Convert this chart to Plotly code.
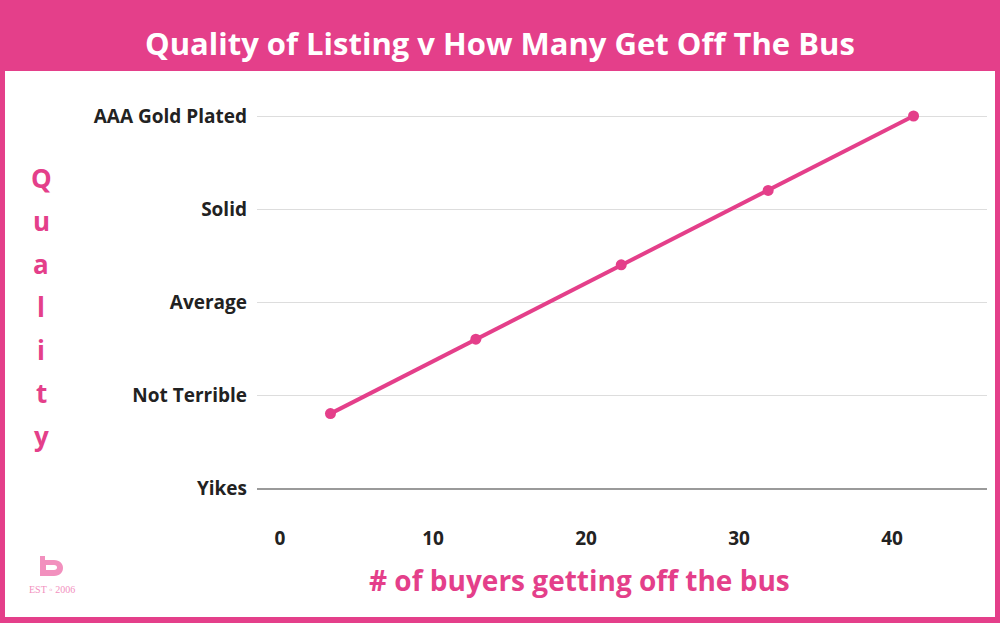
import plotly.graph_objects as go

# ---- data ----
buyers = [3.3, 12.8, 22.3, 31.9, 41.4]
quality = [0.8, 1.6, 2.4, 3.2, 4.0]
quality_levels = [0, 1, 2, 3, 4]
quality_labels = ["Yikes", "Not Terrible", "Average", "Solid", "AAA Gold Plated"]
x_ticks = [0, 10, 20, 30, 40]
y_title_letters = list("Quality")

PINK = "#E43F8A"
LOGO_PINK = "#F290BE"
FONT = "Open Sans"
W, H = 1000, 623
L, R, T, B = 257, 13, 95, 135
PW, PH = W - L - R, H - T - B


def px_x(px):
    return (px - L) / PW


def px_y(py):
    return (H - B - py) / PH


fig = go.Figure()
fig.add_trace(go.Scatter(
    x=buyers, y=quality, mode="lines+markers",
    line=dict(color=PINK, width=4),
    marker=dict(color=PINK, size=11),
    hoverinfo="skip", cliponaxis=False,
))

shapes = [
    # white card inside the pink frame
    dict(type="rect", xref="paper", yref="paper",
         x0=px_x(5), x1=px_x(995), y0=px_y(617), y1=px_y(71),
         fillcolor="white", line=dict(width=0), layer="below"),
    # logo
    dict(type="path", xref="paper", yref="paper", xsizemode="pixel", ysizemode="pixel",
         xanchor=px_x(0), yanchor=px_y(0),
         path="M 40,-556 L 45,-556 L 45,-560 L 54,-560 C 66,-560 66,-576 54,-576 L 40,-576 Z",
         fillcolor=LOGO_PINK, line=dict(width=0)),
    dict(type="path", xref="paper", yref="paper", xsizemode="pixel", ysizemode="pixel",
         xanchor=px_x(0), yanchor=px_y(0),
         path="M 46,-565 L 54,-565 C 58,-565 58,-570 54,-570 L 46,-570 Z",
         fillcolor="white", line=dict(width=0)),
]

annotations = [
    dict(text="Quality of Listing v How Many Get Off The Bus", xref="paper", yref="paper",
         x=px_x(500), y=px_y(43), showarrow=False, xanchor="center", yanchor="middle",
         font=dict(family=FONT, size=31, color="white", weight="bold")),
    dict(text="# of buyers getting off the bus", xref="paper", yref="paper",
         x=px_x(579), y=px_y(580), showarrow=False, xanchor="center", yanchor="middle",
         font=dict(family=FONT, size=28, color=PINK, weight="bold")),
    dict(text="EST ◦ 2006", xref="paper", yref="paper",
         x=px_x(52), y=px_y(589), showarrow=False, xanchor="center", yanchor="middle",
         font=dict(family="Liberation Serif", size=10, color=LOGO_PINK)),
]
for i, ch in enumerate(y_title_letters):
    annotations.append(dict(
        text=ch, xref="paper", yref="paper", x=px_x(41), y=px_y(178 + i * 43),
        showarrow=False, xanchor="center", yanchor="middle",
        font=dict(family=FONT, size=26, color=PINK, weight="bold")))

fig.update_layout(
    width=W, height=H,
    margin=dict(l=L, r=R, t=T, b=B, pad=0),
    paper_bgcolor=PINK, plot_bgcolor="rgba(0,0,0,0)",
    showlegend=False,
    shapes=shapes, annotations=annotations,
    xaxis=dict(range=[-1.5, 46.2], tickvals=x_ticks, showgrid=False, zeroline=False,
               showline=True, linecolor="#9a9a9a", linewidth=1.5,
               ticks="", ticklabelstandoff=32,
               tickfont=dict(family=FONT, size=19, color="#222222", weight="bold")),
    yaxis=dict(range=[0, PH / 93.0], tickvals=quality_levels, ticktext=quality_labels,
               showgrid=True, gridcolor="#dddddd", gridwidth=1, zeroline=False,
               ticks="", ticklabelstandoff=9,
               tickfont=dict(family=FONT, size=19, color="#222222", weight="bold")),
)

fig.write_html("out.html", config={"displayModeBar": False},
               post_script="document.body.style.margin='0px';")
